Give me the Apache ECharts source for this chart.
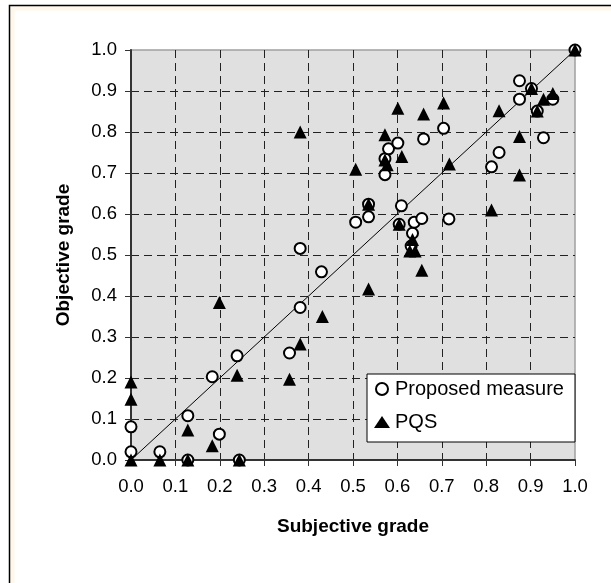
<!DOCTYPE html>
<html>
<head>
<meta charset="utf-8">
<script src="https://cdn.jsdelivr.net/npm/echarts@6/dist/echarts.min.js"></script>
<style>
  html, body { margin: 0; padding: 0; background: #fff; }
  #chart { width: 611px; height: 583px; }
</style>
</head>
<body>
<div id="chart"></div>
<script>
  // [subjective, objective] pairs
  var proposedMeasure = [
    [0, 0.02], [0, 0.081], [0.065, 0.02], [0.128, 0.108], [0.128, 0],
    [0.183, 0.203], [0.199, 0.063], [0.239, 0.254], [0.244, 0], [0.357, 0.261],
    [0.381, 0.372], [0.381, 0.516], [0.429, 0.459], [0.506, 0.58], [0.535, 0.593],
    [0.535, 0.624], [0.572, 0.696], [0.572, 0.735], [0.58, 0.759], [0.601, 0.773],
    [0.604, 0.575], [0.609, 0.62], [0.631, 0.522], [0.634, 0.553], [0.638, 0.58],
    [0.655, 0.589], [0.659, 0.783], [0.704, 0.809], [0.716, 0.588], [0.812, 0.715],
    [0.829, 0.75], [0.875, 0.925], [0.875, 0.88], [0.902, 0.906], [0.915, 0.851],
    [0.929, 0.786], [0.95, 0.88], [1, 1]
  ];
  var pqs = [
    [0, 0], [0, 0.148], [0, 0.19], [0.065, 0], [0.128, 0],
    [0.128, 0.073], [0.183, 0.035], [0.199, 0.384], [0.239, 0.207], [0.244, 0],
    [0.357, 0.197], [0.381, 0.283], [0.381, 0.80], [0.431, 0.35], [0.506, 0.709],
    [0.535, 0.417], [0.535, 0.624], [0.572, 0.732], [0.572, 0.793], [0.577, 0.72],
    [0.601, 0.858], [0.604, 0.575], [0.61, 0.74], [0.628, 0.51], [0.634, 0.538],
    [0.64, 0.51], [0.655, 0.463], [0.659, 0.844], [0.704, 0.871], [0.717, 0.722],
    [0.812, 0.61], [0.829, 0.852], [0.875, 0.789], [0.875, 0.695], [0.902, 0.906],
    [0.915, 0.851], [0.929, 0.88], [0.95, 0.894], [1, 1]
  ];
  var diagonal = [[0, 0], [1, 1]];
  var seriesNames = ["Proposed measure", "PQS"];
  var xTitle = "Subjective grade";
  var yTitle = "Objective grade";

  var font = "Liberation Sans, Arial, sans-serif";

  function axisCommon() {
    return {
      type: "value",
      min: 0,
      max: 1,
      interval: 0.1,
      nameLocation: "middle",
      nameTextStyle: { fontFamily: font, fontSize: 19, fontWeight: "bold", color: "#000" },
      axisLine: { show: true, lineStyle: { color: "#333", width: 2 } },
      axisTick: { show: true, length: 6, lineStyle: { color: "#333", width: 1 } },
      axisLabel: {
        fontFamily: font, fontSize: 18.5, color: "#000",
        formatter: function (v) { return v.toFixed(1); }
      },
      splitLine: {
        show: true, showMinLine: false, showMaxLine: false,
        lineStyle: { color: "#222", width: 1, type: [8, 5] }
      }
    };
  }

  var xAxis = axisCommon();
  xAxis.name = xTitle;
  xAxis.nameGap = 57;
  xAxis.axisLabel.margin = 17;

  var yAxis = axisCommon();
  yAxis.name = yTitle;
  yAxis.nameGap = 58;
  yAxis.axisLabel.margin = 14;

  var option = {
    backgroundColor: "#fff",
    animation: false,
    graphic: [
      {
        type: "rect", silent: true, z: -10,
        shape: { x: 12, y: 8, width: 640, height: 620 },
        style: { fill: "none", stroke: "#fff8ea", lineWidth: 5 }
      },
      {
        type: "rect", silent: true, z: -9,
        shape: { x: 9.5, y: 5.5, width: 640, height: 620 },
        style: { fill: "none", stroke: "#000", lineWidth: 1.5 }
      }
    ],
    grid: {
      left: 131, top: 50, width: 444, height: 410,
      outerBoundsMode: "none",
      show: true, backgroundColor: "#e0e0e0",
      borderColor: "#a0a0a0", borderWidth: 1.5
    },
    legend: {
      orient: "vertical",
      left: 367, top: 374,
      padding: [5, 11, 10, 7],
      itemGap: 13,
      itemWidth: 16, itemHeight: 12,
      backgroundColor: "#fff",
      borderColor: "#000", borderWidth: 1,
      textStyle: { fontFamily: font, fontSize: 20, color: "#000" },
      data: seriesNames
    },
    xAxis: xAxis,
    yAxis: yAxis,
    series: [
      {
        type: "line",
        data: diagonal,
        symbol: "none",
        silent: true,
        z: 1,
        lineStyle: { color: "#000", width: 1 }
      },
      {
        name: seriesNames[0],
        type: "scatter",
        data: proposedMeasure,
        symbol: "circle",
        symbolSize: 11,
        z: 2,
        itemStyle: { color: "#fff", borderColor: "#000", borderWidth: 2, opacity: 1 }
      },
      {
        name: seriesNames[1],
        type: "scatter",
        data: pqs,
        symbol: "triangle",
        symbolSize: 13,
        z: 3,
        itemStyle: { color: "#000", opacity: 1 }
      }
    ]
  };

  var myChart = echarts.init(document.getElementById("chart"));
  myChart.setOption(option);
</script>
</body>
</html>
